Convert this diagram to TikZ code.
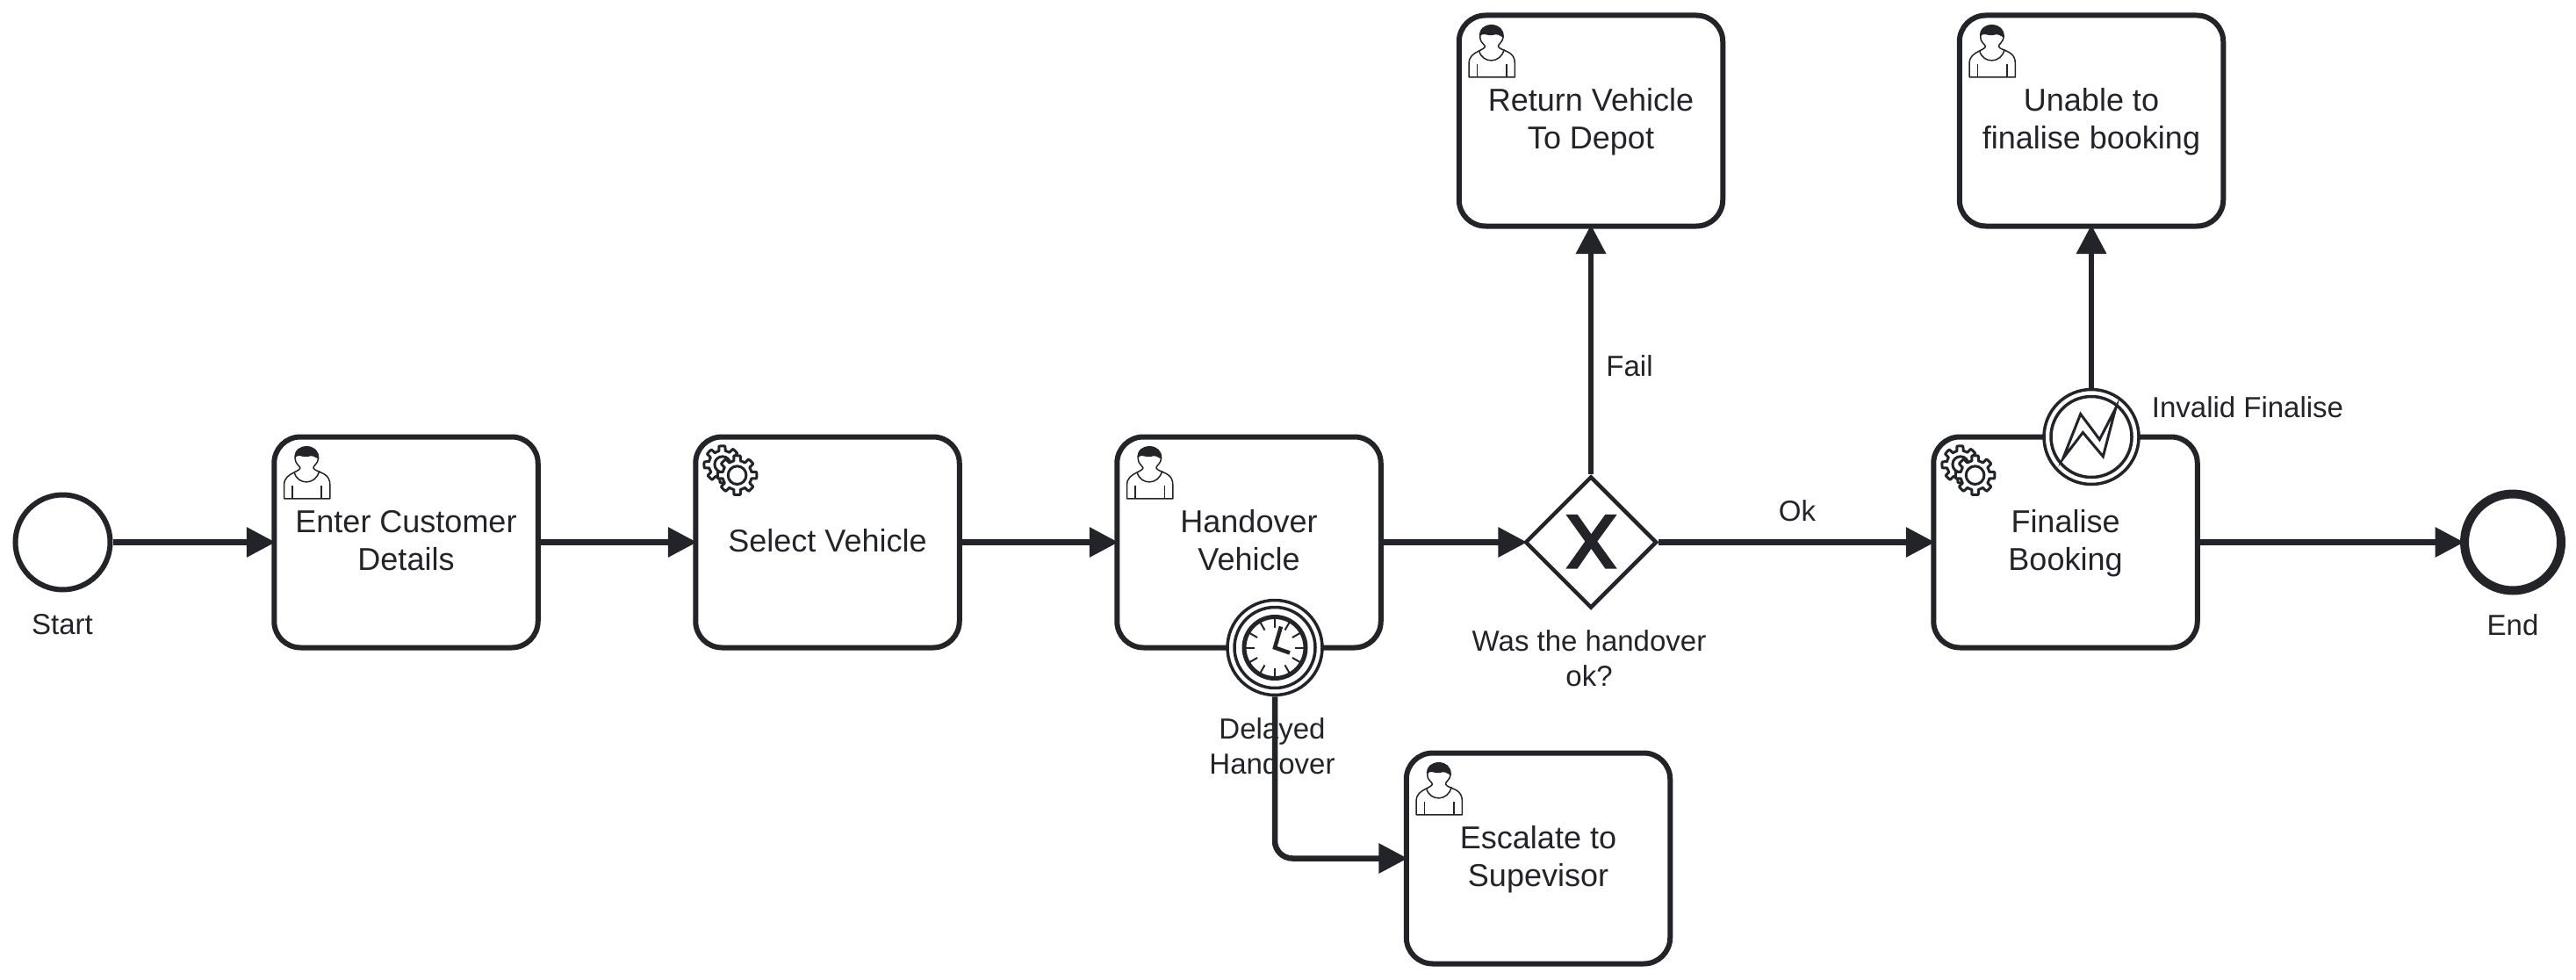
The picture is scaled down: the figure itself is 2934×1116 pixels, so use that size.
\documentclass[tikz,border=0pt]{standalone}
\usepackage{fontspec}
\setmainfont{Liberation Sans}
\usetikzlibrary{arrows.meta,shapes.geometric}
\definecolor{ink}{HTML}{22242A}
\newcommand\taskstrut{\rule[-9.5pt]{0pt}{40pt}}
\tikzset{
  x=1pt,y=-1pt,
  taskbox/.style={draw=ink,fill=white,line width=6pt,rounded corners=30pt,minimum width=300.5pt,minimum height=240pt,inner sep=0pt,text=ink,align=center,font=\fontsize{36}{43}\selectfont},
  lab/.style={text=ink,align=center,inner sep=0pt,font=\fontsize{33}{40}\selectfont},
  conn/.style={draw=ink,line width=6.5pt,shorten >=-4.5pt,-{Triangle[length=33pt,width=33pt]}},
  thin icon/.style={draw=ink,line width=1.5pt},
  usericon/.pic={
    \begin{scope}[shift={(-9,-5)},scale=.3333]
      \draw[thin icon,line join=round] (70,235) -- (70,188) .. controls (70,165) and (85,155) .. (105,145) .. controls (115,140) and (125,135) .. (125,130) .. controls (122,122) and (108,115) .. (108,100) .. controls (105,70) and (125,58) .. (147,58) .. controls (170,58) and (188,72) .. (187,98) .. controls (186,115) and (170,122) .. (170,130) .. controls (172,138) and (190,142) .. (205,150) .. controls (220,158) and (227,170) .. (227,190) -- (227,235) -- cycle;
      \draw[thin icon] (105,145) .. controls (115,190) and (180,190) .. (190,140);
      \draw[thin icon] (98,190) -- (98,233) (198,190) -- (198,233);
      \fill[ink] (107,95) .. controls (105,70) and (125,57) .. (147,57) .. controls (170,57) and (189,72) .. (187,100) .. controls (175,92) and (165,85) .. (150,92) .. controls (135,96) and (120,80) .. (107,95) -- cycle;
    \end{scope}
  },
  gearicon/.pic={
    \begin{scope}[shift={(-9,-5)},scale=.3333]
      \begin{scope}[shift={(128,118)}]
        \draw[draw=ink,fill=white,line width=3pt,line join=round] plot[domain=0:360,samples=193] ({(47+16*max(0,min(1,2.2*cos(8*\x+12)+.5)))*cos(\x)},{(47+16*max(0,min(1,2.2*cos(8*\x+12)+.5)))*sin(\x)}) -- cycle;
        \draw[draw=ink,line width=3pt] (0,0) circle (27);
      \end{scope}
      \begin{scope}[shift={(178,155)}]
        \draw[draw=ink,fill=white,line width=3pt,line join=round] plot[domain=0:360,samples=193] ({(50+17*max(0,min(1,2.2*cos(8*\x)+.5)))*cos(\x)},{(50+17*max(0,min(1,2.2*cos(8*\x)+.5)))*sin(\x)}) -- cycle;
        \draw[draw=ink,line width=3pt] (0,0) circle (31);
      \end{scope}
    \end{scope}
  },
  clockicon/.pic={
    \draw[draw=ink,line width=5pt] (0,0) circle (35);
    \foreach \a in {0,30,...,330} \draw[draw=ink,line width=2pt] (\a:23) -- (\a:34);
    \draw[draw=ink,line width=4.5pt,line join=miter] (7,-24) -- (0,0) -- (17,6);
  },
  bolticon/.pic={
    \begin{scope}[scale=.3333]
      \draw[draw=ink,line width=3pt,line join=miter] (-97,74) -- (-37,-78) -- (28,9) -- (83,-98) -- (40,67) -- (-29,-15) -- cycle;
    \end{scope}
  },
  crossicon/.pic={
    \begin{scope}[scale=.3333]
      \fill[ink] (-86,-95) -- (-46,-95) -- (1,-28) -- (49,-95) -- (89,-95) -- (22,-3) -- (89,90) -- (49,90) -- (1,22) -- (-46,90) -- (-86,90) -- (-20,-3) -- cycle;
    \end{scope}
  }
}
\begin{document}
\begin{tikzpicture}
\path[use as bounding box] (0,0) rectangle (2934,1116);
% labels (the connectors run over them)
\node[lab] (lstart) at (71,711) {Start};
\node[lab] (lend) at (2862,712) {End};
\node[lab] (lfail) at (1856,417) {Fail};
\node[lab] (lok) at (2047,582) {Ok};
\node[lab] (linvalid) at (2560,464) {Invalid Finalise};
\node[lab] (lwas) at (1810,750) {Was the handover\\ok?};
\node[lab] (ldelay) at (1449,850) {Delayed\\Handover};
% tasks
\node[taskbox] (t1) at (462.5,617.5) {\taskstrut Enter Customer\\Details\taskstrut};
\node[taskbox] (t2) at (942.5,617.5) {\taskstrut Select Vehicle};
\node[taskbox] (t3) at (1422.5,617.5) {\taskstrut Handover\\Vehicle\taskstrut};
\node[taskbox] (t4) at (2352.5,617.5) {\taskstrut Finalise\\Booking\taskstrut};
\node[taskbox] (ret) at (1812,137.5) {\taskstrut Return Vehicle\\To Depot\taskstrut};
\node[taskbox] (unable) at (2382,137.5) {\taskstrut Unable to\\finalise booking\taskstrut};
\node[taskbox] (esc) at (1752,977.5) {\taskstrut Escalate to\\Supevisor\taskstrut};
\pic at (t1.north west) {usericon};
\pic at (t2.north west) {gearicon};
\pic at (t3.north west) {usericon};
\pic at (t4.north west) {gearicon};
\pic at (ret.north west) {usericon};
\pic at (unable.north west) {usericon};
\pic at (esc.north west) {usericon};
% events and gateway
\node[circle,draw=ink,fill=white,line width=6pt,minimum size=108pt,inner sep=0pt] (start) at (71.5,617.5) {};
\node[circle,draw=ink,fill=white,line width=10pt,minimum size=110pt,inner sep=0pt] (end) at (2862,617.5) {};
\node[diamond,aspect=1,draw=ink,fill=white,line width=4.5pt,minimum width=150pt,minimum height=150pt,inner sep=0pt] (gw) at (1812,617.5) {};
\pic at (gw.center) {crossicon};
\node[circle,draw=ink,fill=white,line width=3.5pt,minimum size=108pt,inner sep=0pt] (timer) at (1452,737.5) {};
\draw[draw=ink,line width=3.5pt] (timer.center) circle (46);
\pic at (timer.center) {clockicon};
\node[circle,draw=ink,fill=white,line width=3.5pt,minimum size=108pt,inner sep=0pt] (err) at (2382,497.5) {};
\draw[draw=ink,line width=3.5pt] (err.center) circle (46);
\pic at (err.center) {bolticon};
% connectors
\draw[conn] (start) -- (t1);
\draw[conn] (t1) -- (t2);
\draw[conn] (t2) -- (t3);
\draw[conn] (t3) -- (gw);
\draw[conn] (gw.north) -- (ret.south);
\draw[conn] (gw) -- (t4);
\draw[conn] (t4) -- (end);
\draw[conn] (err.north) -- (unable.south);
\draw[conn,rounded corners=20pt] (timer.south) |- (esc.west);
\end{tikzpicture}
\end{document}
